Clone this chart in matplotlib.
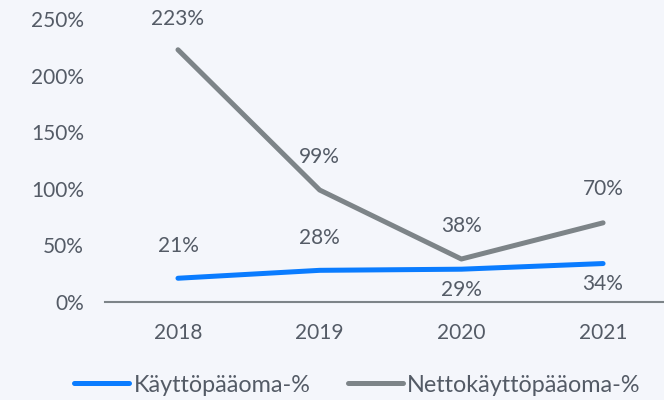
import matplotlib.pyplot as plt
from matplotlib.ticker import FuncFormatter

plt.rcParams['font.family'] = ['Lato', 'DejaVu Sans']

years = ['2018', '2019', '2020', '2021']
kayttopaaoma = [21, 28, 29, 34]
netto = [223, 99, 38, 70]

bg = '#f4f6fb'
txt = '#545b66'
blue = '#0a7cff'
grey = '#7d8488'
fs = 15

fig = plt.figure(figsize=(6.64, 4.0), dpi=100, facecolor=bg)
ax = fig.add_axes([105 / 664, 98 / 400, 1 - 105 / 664, 302 / 400])
ax.set_facecolor(bg)

x = list(range(len(years)))
ax.plot(x, kayttopaaoma, color=blue, lw=3.6, solid_capstyle='round', label='Käyttöpääoma-%')
ax.plot(x, netto, color=grey, lw=3.6, solid_capstyle='round', label='Nettokäyttöpääoma-%')

# value labels: above or below the point
for i, v in enumerate(kayttopaaoma):
    off = 23 if i < 2 else -15
    ax.annotate(f'{v}%', (i, v), xytext=(0, off), textcoords='offset points',
                ha='center', va='center', fontsize=fs, color=txt)
for i, v in enumerate(netto):
    off = 22 if i == 0 else 24
    ax.annotate(f'{v}%', (i, v), xytext=(0, off), textcoords='offset points',
                ha='center', va='center', fontsize=fs, color=txt)

ax.set_xlim(-0.515, 3.43)
ax.set_ylim(0, 267)
ax.set_yticks([0, 50, 100, 150, 200, 250])
ax.yaxis.set_major_formatter(FuncFormatter(lambda v, p: f'{v:.0f}%'))
ax.set_xticks(x, years)
ax.tick_params(length=0, labelsize=fs, labelcolor=txt)
ax.tick_params(axis='x', pad=15)
ax.tick_params(axis='y', pad=15)
for s in ['top', 'right', 'left']:
    ax.spines[s].set_visible(False)
ax.spines['bottom'].set_color(grey)
ax.spines['bottom'].set_linewidth(1.5)

fig.legend(loc='center', bbox_to_anchor=(0.538, 0.0375), ncol=2, frameon=False,
           fontsize=16.8, labelcolor=txt, handlelength=2.36, handletextpad=0.2,
           columnspacing=1.6)

fig.savefig('out.png', dpi=100, facecolor=bg)
